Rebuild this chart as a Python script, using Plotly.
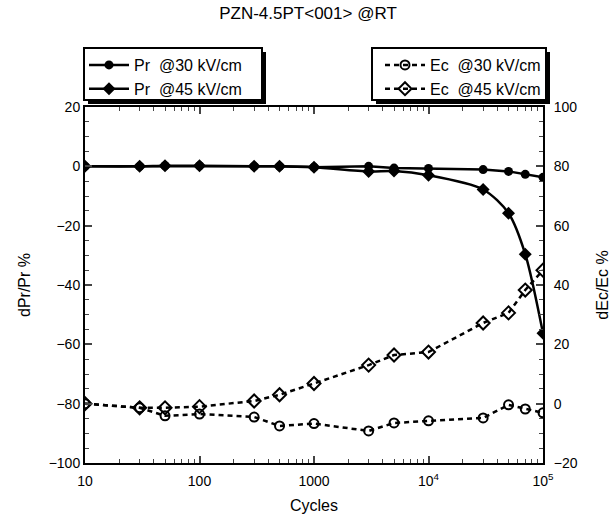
import plotly.graph_objects as go

cycles = [10, 30, 50, 100, 300, 500, 1000, 3000, 5000, 1e4, 3e4, 5e4, 7e4, 1e5]
pr30 = [0, 0, 0.2, 0.2, 0, 0, -0.3, 0, -0.6, -0.7, -1.1, -1.7, -2.7, -3.7]
pr45 = [0, 0, 0.2, 0.2, 0, 0, -0.3, -1.7, -1.6, -3.0, -7.8, -15.8, -29.6, -56.3]
ec30 = [0, -1.4, -4.1, -3.5, -4.5, -7.5, -6.7, -9.2, -6.5, -5.8, -4.8, -0.4, -1.8, -3.1]
ec45 = [0, -1.4, -1.4, -1.0, 0.9, 3.0, 6.8, 13.0, 16.4, 17.4, 27.2, 30.6, 38.3, 45.0]

xtick_vals = [10, 100, 1000, 1e4, 1e5]
xtick_text = ["10", "100", "1000", "10<sup>4</sup>", "10<sup>5</sup>"]

FONT = "Liberation Sans, Arial, sans-serif"
W, H = 616, 525
ML, MR, MT, MB = 85, 73, 107, 62
PW, PH = W - ML - MR, H - MT - MB

def px_x(p):
    return (p - ML) / PW

def px_y(p):
    return (H - MB - p) / PH

fig = go.Figure()
fig.add_trace(go.Scatter(x=cycles, y=pr30, name="Pr  @30 kV/cm", mode="lines+markers",
                         line=dict(color="black", width=2.5),
                         marker=dict(symbol="circle", size=9, color="black"), legend="legend"))
fig.add_trace(go.Scatter(x=cycles, y=pr45, name="Pr  @45 kV/cm", mode="lines+markers",
                         line=dict(color="black", width=2.5, shape="spline", smoothing=0.8),
                         marker=dict(symbol="diamond", size=10, color="black"), legend="legend"))
fig.add_trace(go.Scatter(x=cycles, y=ec30, name="Ec  @30 kV/cm", mode="lines+markers", yaxis="y2",
                         line=dict(color="black", width=2.5, dash="5px,4px"),
                         marker=dict(symbol="circle-open", size=9, color="black", line=dict(width=2)),
                         legend="legend2"))
fig.add_trace(go.Scatter(x=cycles, y=ec45, name="Ec  @45 kV/cm", mode="lines+markers", yaxis="y2",
                         line=dict(color="black", width=2.5, dash="5px,4px"),
                         marker=dict(symbol="diamond-open", size=10, color="black", line=dict(width=2)),
                         legend="legend2"))

# legend boxes (frame + drop shadow); legend content is drawn on top by plotly
BOX_TOP, BOX_BOT = 48, 100
BOXES = [(84, 262), (372, 546)]
for x0, x1 in BOXES:
    fig.add_shape(type="rect", xref="paper", yref="paper",
                  x0=px_x(x0 + 4), x1=px_x(x1 + 4), y0=px_y(BOX_BOT + 4), y1=px_y(BOX_TOP + 4),
                  fillcolor="black", line=dict(width=0), layer="above")
    fig.add_shape(type="rect", xref="paper", yref="paper",
                  x0=px_x(x0), x1=px_x(x1), y0=px_y(BOX_BOT), y1=px_y(BOX_TOP),
                  fillcolor="white", line=dict(width=2, color="black"), layer="above")

leg_common = dict(yanchor="top", y=px_y(BOX_TOP), bgcolor="rgba(0,0,0,0)",
                  borderwidth=0, font=dict(size=16), itemwidth=40,
                  tracegroupgap=0, itemsizing="trace")

fig.update_layout(
    width=W, height=H,
    margin=dict(l=ML, r=MR, t=MT, b=MB, autoexpand=False),
    paper_bgcolor="white", plot_bgcolor="white",
    font=dict(family=FONT, size=14, color="black"),
    title=dict(text="PZN-4.5PT<001> @RT", x=0.5, xanchor="center", y=0.986, yanchor="top",
               font=dict(size=17)),
    xaxis=dict(type="log", range=[1, 5], tickvals=xtick_vals, ticktext=xtick_text,
               ticks="inside", ticklen=7, tickwidth=1.5, showline=True, linewidth=2, linecolor="black",
               mirror="ticks", showgrid=False, zeroline=False, ticklabelstandoff=4,
               minor=dict(tickvals=[m * 10 ** e for e in range(1, 5) for m in range(2, 10)],
                          ticks="inside", ticklen=4, tickwidth=1.2, showgrid=False),
               title=dict(text="Cycles", font=dict(size=16), standoff=12),
               tickfont=dict(size=14)),
    yaxis=dict(range=[-100, 20], tickvals=[-100, -80, -60, -40, -20, 0, 20],
               ticks="inside", ticklen=7, tickwidth=1.5, showline=True, linewidth=2, linecolor="black",
               mirror=True, showgrid=False, zeroline=False,
               minor=dict(dtick=5, ticks="inside", ticklen=4, tickwidth=1.2, showgrid=False),
               title=dict(text="dPr/Pr %", font=dict(size=16), standoff=14),
               tickfont=dict(size=14)),
    yaxis2=dict(range=[-20, 100], tickvals=[-20, 0, 20, 40, 60, 80, 100], overlaying="y", side="right",
                ticks="inside", ticklen=7, tickwidth=1.5, showline=True, linewidth=2, linecolor="black",
                showgrid=False, zeroline=False, ticklabelstandoff=6,
                minor=dict(dtick=5, ticks="inside", ticklen=4, tickwidth=1.2, showgrid=False),
                title=dict(text="dEc/Ec %", font=dict(size=16), standoff=20),
                tickfont=dict(size=14)),
    legend=dict(x=px_x(BOXES[0][0]), xanchor="left", **leg_common),
    legend2=dict(x=px_x(BOXES[1][1]), xanchor="right", **leg_common),
)

fig.write_html("out.html", config={"displayModeBar": False},
               post_script="document.body.style.margin='0';")
